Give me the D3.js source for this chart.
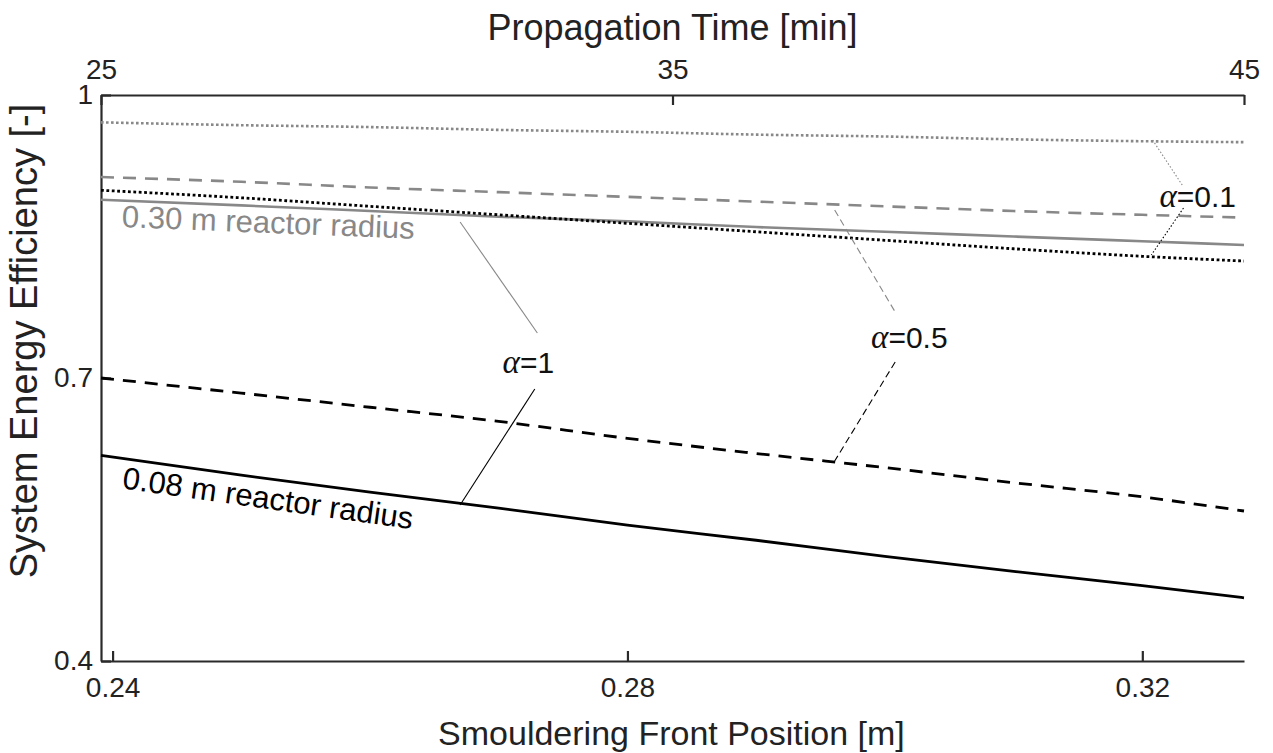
<!DOCTYPE html>
<html>
<head>
<meta charset="utf-8">
<script src="https://cdn.jsdelivr.net/npm/d3@7"></script>
<style>
  body { margin: 0; background: #fff; }
  svg text { font-family: "Liberation Sans", Arial, sans-serif; }
</style>
</head>
<body>
<div id="chart"></div>
<script>
// sampled x positions (smouldering front position, m)
const xPos = [0.2391, 0.25, 0.26, 0.27, 0.28, 0.29, 0.30, 0.31, 0.32, 0.3279];

// 0.08 m reactor radius
const small_a1 = [0.618, 0.597, 0.579, 0.562, 0.544, 0.528, 0.511, 0.495, 0.480, 0.467];
const small_a05 = [0.700, 0.684, 0.669, 0.654, 0.636, 0.620, 0.605, 0.589, 0.574, 0.559];
const small_a01 = [0.899, 0.891, 0.882, 0.873, 0.864, 0.855, 0.846, 0.837, 0.829, 0.824];

// 0.30 m reactor radius
const large_a1 = [0.889, 0.883, 0.877, 0.871, 0.866, 0.860, 0.855, 0.850, 0.845, 0.841];
const large_a05 = [0.913, 0.908, 0.902, 0.897, 0.892, 0.887, 0.882, 0.877, 0.873, 0.870];
const large_a01 = [0.971, 0.968, 0.966, 0.963, 0.961, 0.958, 0.956, 0.953, 0.951, 0.950];

const xTicks = [0.24, 0.28, 0.32];
const yTicks = [0.4, 0.7, 1];
const topTicks = [25, 35, 45];

// annotation leaders [x1, y1, x2, y2] in data units
const leaders = [
  { pts: [0.2670, 0.8654, 0.2730, 0.7477], color: "#888", dash: null },
  { pts: [0.2728, 0.6883, 0.2670, 0.5654], color: "#000", dash: null },
  { pts: [0.2961, 0.8781, 0.3008, 0.7700], color: "#888", dash: "7,4" },
  { pts: [0.3008, 0.7170, 0.2961, 0.6120], color: "#000", dash: "7,4" },
  { pts: [0.3208, 0.9523, 0.3231, 0.9046], color: "#888", dash: "1.5,2" },
  { pts: [0.3232, 0.8802, 0.3207, 0.8304], color: "#000", dash: "1.5,2" }
];
const alphaLabels = [
  { x: 0.2723, y: 0.7053, v: "1" },
  { x: 0.3019, y: 0.7318, v: "0.5" },
  { x: 0.3243, y: 0.8813, v: "0.1" }
];

const W = 1273, H = 753;
const margin = { top: 95, right: 29, bottom: 92, left: 101 };
const width = W - margin.left - margin.right;
const height = H - margin.top - margin.bottom;

const svg = d3.select("#chart").append("svg")
  .attr("width", W).attr("height", H)
  .append("g")
  .attr("transform", `translate(${margin.left},${margin.top})`);

const x = d3.scaleLinear().domain([0.2391, 0.3279]).range([0, width]);
const xTop = d3.scaleLinear().domain([25, 45]).range([0, width]);
const y = d3.scaleLinear().domain([0.4, 1]).range([height, 0]);

const axisColor = "#2a2a2a";
function styleAxis(g) {
  g.select(".domain").attr("stroke", axisColor).attr("stroke-width", 2.2);
  g.selectAll(".tick line").attr("stroke", axisColor).attr("stroke-width", 2.2);
  g.selectAll(".tick text").attr("fill", "#222").style("font-size", "28px");
}

svg.append("g").attr("transform", `translate(0,${height})`)
  .call(d3.axisBottom(x).tickValues(xTicks).tickFormat(d3.format(".2f")).tickSizeInner(-10).tickSizeOuter(0).tickPadding(16))
  .call(styleAxis);

svg.append("g")
  .call(d3.axisTop(xTop).tickValues(topTicks).tickFormat(d3.format("d")).tickSizeInner(-10).tickSizeOuter(0).tickPadding(16))
  .call(styleAxis);

svg.append("g")
  .call(d3.axisLeft(y).tickValues(yTicks).tickFormat(d => d === 1 ? "1" : d3.format(".1f")(d)).tickSizeInner(-10).tickSizeOuter(0).tickPadding(8))
  .call(styleAxis);

// axis titles
svg.append("text").attr("x", x(0.28) + 44).attr("y", height + 84)
  .attr("text-anchor", "middle").style("font-size", "34px").attr("fill", "#222")
  .text("Smouldering Front Position [m]");
svg.append("text").attr("x", xTop(35)).attr("y", -55)
  .attr("text-anchor", "middle").style("font-size", "36px").attr("fill", "#222")
  .text("Propagation Time [min]");
svg.append("text").attr("transform", `translate(-64,${height / 2 - 37}) rotate(-90)`)
  .attr("text-anchor", "middle").style("font-size", "38px").attr("fill", "#222")
  .text("System Energy Efficiency [-]");

// curves
const series = [
  { v: large_a01, color: "#888", w: 2.6, dash: "2.6,2.4" },
  { v: large_a05, color: "#888", w: 2.6, dash: "13,9" },
  { v: large_a1, color: "#888", w: 2.6, dash: null },
  { v: small_a01, color: "#000", w: 2.8, dash: "2.8,2.6" },
  { v: small_a05, color: "#000", w: 2.8, dash: "13,9" },
  { v: small_a1, color: "#000", w: 2.8, dash: null }
];

const line = d3.line().x(d => x(d[0])).y(d => y(d[1])).curve(d3.curveMonotoneX);

series.forEach(s => {
  svg.append("path")
    .datum(xPos.map((p, i) => [p, s.v[i]]))
    .attr("fill", "none")
    .attr("stroke", s.color)
    .attr("stroke-width", s.w)
    .attr("stroke-dasharray", s.dash)
    .attr("d", line);
});

// leader lines
leaders.forEach(l => {
  svg.append("line")
    .attr("x1", x(l.pts[0])).attr("y1", y(l.pts[1]))
    .attr("x2", x(l.pts[2])).attr("y2", y(l.pts[3]))
    .attr("stroke", l.color).attr("stroke-width", 1.1)
    .attr("stroke-dasharray", l.dash);
});

// alpha labels
alphaLabels.forEach(a => {
  const t = svg.append("text").attr("x", x(a.x)).attr("y", y(a.y))
    .attr("text-anchor", "middle").style("font-size", "30px").attr("fill", "#111");
  t.append("tspan").style("font-family", "'Liberation Serif', 'DejaVu Serif', serif")
    .style("font-style", "italic").style("font-size", "33px").text("α");
  t.append("tspan").text("=" + a.v);
});

// series labels
svg.append("text")
  .attr("transform", `translate(${x(0.2407)},${y(0.860)}) rotate(2.3)`)
  .style("font-size", "31px").attr("fill", "#888")
  .text("0.30 m reactor radius");
svg.append("text")
  .attr("transform", `translate(${x(0.2407)},${y(0.583)}) rotate(8)`)
  .style("font-size", "31px").attr("fill", "#000")
  .text("0.08 m reactor radius");
</script>
</body>
</html>
